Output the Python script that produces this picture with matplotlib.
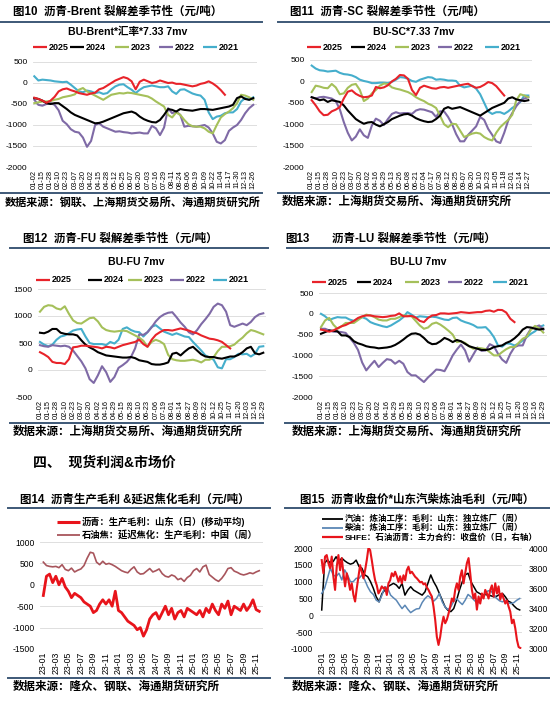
import matplotlib
matplotlib.use("Agg")
import matplotlib.pyplot as plt
from matplotlib.lines import Line2D
import numpy as np

plt.rcParams["font.family"] = ["Liberation Sans", "Noto Sans CJK SC", "DejaVu Sans"]
plt.rcParams["axes.unicode_minus"] = False

# ---------------- data ----------------
YEARS = ["2025", "2024", "2023", "2022", "2021"]
YEAR_COLORS = ["#E8232A", "#000000", "#A5C05A", "#7F6AA6", "#45AECC"]

ticks_brent = ["01-02", "01-15", "01-28", "02-10", "02-23", "03-07", "03-20", "04-02", "04-15", "04-28",
               "05-12", "05-25", "06-07", "06-20", "07-03", "07-16", "07-29", "08-11", "08-24", "09-06",
               "09-19", "10-09", "10-22", "11-04", "11-17", "11-30", "12-13", "12-26"]
ticks_sc = ["01-02", "01-15", "01-28", "02-10", "02-23", "03-07", "03-20", "04-02", "04-16", "04-29",
            "05-13", "05-26", "06-08", "06-21", "07-04", "07-17", "07-30", "08-12", "08-25", "09-07",
            "09-20", "10-10", "10-23", "11-05", "11-18", "12-01", "12-14", "12-27"]
ticks_fu = ["01-02", "01-15", "01-28", "02-10", "02-23", "03-07", "03-20", "04-02", "04-16", "04-29",
            "05-15", "05-28", "06-10", "06-23", "07-06", "07-19", "08-01", "08-14", "08-27", "09-09",
            "09-22", "10-12", "10-25", "11-07", "11-20", "12-03", "12-16", "12-29"]

# BU-Brent*汇率*7.33 7mv (half tick steps)
brent_2025 = [-350, -380, -420, -470, -420, -330, -200, -150, -130, -170, -200, -240, -260, -280, -250, -230,
              -150, -120, -60, 0, 60, 100, 140, 110, 40, -150, 30, 80, 40, 0, 20, 60, 30, 0, 10, -20, -20,
              -40, -60, -80, -60, -20, 0, 40, -10, -80, -170, -280]
brent_2024 = [-360, -380, -420, -480, -500, -480, -480, -550, -620, -700, -760, -800, -840, -880, -920, -960,
              -950, -920, -880, -840, -800, -760, -720, -700, -680, -720, -800, -860, -900, -930, -940, -880,
              -760, -620, -640, -680, -620, -640, -650, -660, -640, -620, -620, -630, -640, -620, -600, -580,
              -560, -520, -360, -320, -380, -400, -360]
brent_2023 = [-480, -460, -440, -440, -430, -400, -380, -340, -320, -300, -270, -160, -120, -200, -250, -300,
              -350, -400, -340, -280, -260, -240, -250, -230, -240, -260, -280, -300, -320, -370, -440, -500,
              -560, -760, -820, -700, -760, -880, -980, -1030, -1040, -1040, -1080, -1160, -1200, -1000, -820,
              -740, -680, -600, -480, -280, -300, -340, -400]
brent_2022 = [-400, -520, -540, -500, -480, -520, -650, -900, -980, -1100, -1160, -1180, -1300, -1520, -1380,
              -1000, -960, -1040, -1080, -1120, -1160, -1150, -1170, -1180, -1200, -1190, -1180, -1200, -1200,
              -1020, -1080, -1240, -1060, -600, -720, -680, -760, -1040, -1020, -1030, -1040, -1020, -1000,
              -1060, -1200, -1400, -1440, -1360, -1140, -1060, -1000, -880, -720, -600, -520]
brent_2021 = [160, 60, 80, 70, 60, 40, 30, 20, 30, -40, -120, -200, -220, -180, -200, -240, -220, -260, -240,
              -150, -80, -40, -30, -100, -160, -240, -160, -100, -80, -60, -80, -100, -100, -80, -200, -260,
              -160, -150, -200, -250, -280, -300, -400, -700, -860, -800, -780, -720, -700, -700, -620, -440,
              -360, -400, -340]

# BU-SC*7.33 7mv
sc_2025 = [-440, -560, -700, -790, -780, -700, -660, -600, -400, -240, -210, -290, -340, -370, -360, -330, -130,
           -160, -140, -90, 0, 60, 150, 140, 60, -200, -320, -150, -100, -130, -160, -170, -140, -130, -150,
           -130, -110, -90, -70, -55, -110, -150, -130, -80, -15, -40, -110, -220, -330]
sc_2024 = [-370, -400, -440, -420, -480, -440, -460, -480, -560, -680, -780, -880, -940, -990, -960, -950,
           -1010, -1050, -1000, -950, -880, -840, -800, -770, -760, -800, -860, -900, -930, -950, -940, -880,
           -800, -640, -600, -640, -620, -600, -640, -680, -720, -760, -800, -740, -680, -620, -580, -540, -500,
           -400, -370, -420, -440, -460, -440]
sc_2023 = [-250, -100, -120, -150, -160, -60, -140, -300, -280, -150, -80, -60, -200, -460, -400, -280, -200,
           -100, -50, -60, -140, -170, -190, -220, -250, -300, -370, -420, -460, -520, -560, -620, -800, -1000,
           -1070, -990, -1000, -1150, -1300, -1260, -1220, -1200, -1220, -1300, -1350, -1380, -1200, -1070, -980,
           -900, -780, -440, -300, -330, -370]
sc_2022 = [-370, -400, -370, -360, -380, -400, -460, -650, -950, -1200, -1380, -1290, -1120, -1260, -1320, -1030,
           -870, -920, -1020, -880, -760, -720, -750, -740, -740, -760, -680, -650, -660, -690, -720, -830, -700,
           -700, -830, -1000, -1230, -1400, -1400, -1250, -1150, -1050, -830, -900, -1110, -1250, -1400, -1440,
           -1200, -910, -740, -580, -460, -400, -370]
sc_2021 = [370, 300, 260, 250, 230, 240, 250, 200, 170, 160, 140, 100, 40, 10, -10, -40, -40, -30, -30, -40, -10,
           40, 100, 90, 60, 10, -10, 40, 70, 100, 90, 40, 50, 40, 20, 20, 10, -100, -140, -120, -100, -170, -300,
           -500, -700, -760, -720, -720, -760, -700, -620, -560, -480, -330, -330]

# BU-FU 7mv
fu_2025 = [330, 290, 240, 150, 130, 130, 110, 200, 420, 430, 450, 450, 440, 430, 420, 400, 430, 420, 400, 430,
           460, 480, 500, 520, 560, 480, 430, 560, 650, 700, 740, 740, 730, 750, 770, 750, 730, 700, 680, 640,
           610, 580, 570, 550, 520, 460, 400]
fu_2024 = [690, 680, 710, 760, 760, 690, 670, 660, 660, 640, 550, 470, 420, 380, 330, 300, 270, 260, 250, 240,
           230, 230, 240, 220, 180, 165, 150, 110, 100, 100, 115, 140, 300, 320, 270, 340, 400, 430, 360, 290,
           250, 240, 240, 220, 210, 230, 250, 250, 280, 330, 400, 430, 310, 290, 320]
fu_2023 = [1080, 1170, 1200, 1190, 1140, 1120, 1180, 1040, 920, 870, 860, 910, 960, 970, 900, 790, 740, 720, 710,
           720, 730, 720, 680, 640, 600, 540, 430, 520, 560, 530, 480, 280, 200, 180, 170, 170, 180, 190, 170,
           140, 190, 190, 240, 350, 430, 430, 440, 470, 540, 600, 680, 740, 720, 690, 660]
fu_2022 = [460, 440, 430, 460, 450, 440, 450, 430, 360, 260, 160, 30, -170, -240, -100, 70, -40, -220, -130, 40,
           90, 150, 240, 400, 660, 650, 700, 790, 900, 980, 1030, 1060, 1070, 980, 880, 800, 700, 660, 740, 850,
           940, 1040, 1170, 1230, 1200, 1080, 830, 800, 830, 860, 830, 890, 980, 1030, 1050]
fu_2021 = [520, 470, 440, 470, 560, 620, 640, 680, 730, 750, 760, 620, 500, 480, 480, 480, 460, 520, 490, 560,
           760, 790, 740, 710, 700, 620, 700, 800, 830, 770, 710, 680, 650, 680, 650, 620, 610, 520, 440, 360,
           270, 230, 190, 50, 30, 200, 200, 240, 300, 290, 300, 250, 300, 430, 440]

# BU-LU 7mv
lu_2025 = [-380, -400, -430, -400, -350, -300, -270, -220, -170, -100, -60, -40, -40, -60, -70, -80, -70, -50,
           -40, 10, -60, -60, -50, -90, -170, -200, -100, -40, -30, 10, 10, 0, 10, 20, 40, 30, 20, 30, 40, 40,
           70, 80, 50, 95, 90, 30, -120, -200]
lu_2024 = [-480, -440, -400, -410, -420, -520, -520, -560, -660, -710, -740, -780, -800, -810, -830, -820, -810,
           -790, -750, -690, -620, -540, -480, -470, -500, -580, -680, -730, -720, -660, -580, -620, -680, -630,
           -660, -720, -780, -810, -840, -870, -870, -850, -800, -780, -760, -700, -660, -590, -500, -380, -320,
           -330, -360, -380, -360]
lu_2023 = [-320, -160, -100, -260, -360, -300, -220, -220, -220, -150, -80, -20, -40, -80, -140, -160, -160,
           -120, -120, -80, -40, -50, -60, -170, -280, -360, -330, -240, -210, -260, -330, -410, -500, -680,
           -660, -700, -780, -840, -820, -830, -850, -920, -1000, -1000, -920, -850, -800, -800, -700, -600,
           -550, -380, -290, -350, -450]
lu_2022 = [-360, -360, -400, -430, -430, -440, -460, -580, -700, -870, -1170, -1360, -1240, -1130, -1280, -1180,
           -1090, -1110, -1200, -1130, -1200, -1400, -1480, -1480, -1560, -1640, -1530, -1440, -1340, -1350,
           -1380, -1200, -1000, -860, -740, -880, -1150, -980, -810, -890, -880, -730, -780, -960, -1100, -1180,
           -960, -800, -760, -760, -520, -360, -320, -280, -380]
lu_2021 = [0, -60, -150, -110, -80, -90, -90, -140, -170, -120, -80, -120, -200, -240, -270, -300, -320, -280,
           -220, -160, -80, 40, -20, -90, -60, -70, -80, -70, -80, -110, -140, -150, -100, -90, -160, -200, -230,
           -270, -330, -330, -320, -420, -560, -760, -790, -710, -720, -760, -720, -640, -560, -480, -420, -320,
           -280]

# monthly axis labels for the bottom charts (23-01 .. 25-11, every 2 months)
month_ticks = ["23-01", "23-03", "23-05", "23-07", "23-09", "23-11", "24-01", "24-03", "24-05", "24-07",
               "24-09", "24-11", "25-01", "25-03", "25-05", "25-07", "25-09", "25-11"]

# 沥青生产毛利 / 延迟焦化毛利, half-month steps from 23-01
bu_margin = [-250, 200, 250, 50, 200, 0, 150, -50, -150, -300, -200, -250, -300, -400, -450, -500, -650, -600,
             -450, -350, -450, -350, -500, -150, -600, -650, -750, -850, -900, -950, -1050, -1000, -1200, -1050,
             -800, -700, -650, -800, -650, -500, -700, -550, -800, -650, -600, -750, -550, -600, -650, -700, -600,
             -750, -550, -650, -450, -600, -700, -450, -550, -380, -700, -500, -550, -600, -450, -600, -500, -350,
             -580, -620]
coke_margin = [530, 450, 430, 420, 430, 400, 470, 360, 330, 390, 300, 340, 370, 450, 620, 760, 740, 530, 470, 550,
               480, 500, 470, 430, 380, 330, 300, 280, 360, 420, 300, 250, 260, 320, 380, 300, 330, 370, 260, 200,
               180, 230, 200, 120, 150, 80, 170, 220, 330, 380, 300, 420, 460, 240, 180, 120, 80, 150, 250, 380,
               400, 320, 290, 250, 230, 250, 280, 260, 300, 330]

# 汽油/柴油毛利 (half-month steps) and SHFE 沥青收盘价 (right axis)
gasoline_margin = [160, 1550, 1650, 1550, 1600, 1740, 1600, 1700, 1620, 1560, 1520, 1550, 1640, 1450, 1400, 1200,
                   1150, 1000, 800, 550, 400, 650, 750, 850, 900, 950, 900, 800, 950, 600, 750, 850, 750, 700,
                   650, 600, 700, 950, 1200, 1000, 850, 650, 450, 250, 150, 110, 200, 450, 750, 1000, 1200, 1250,
                   1000, 850, 700, 650, 600, 620, 600, 580, 550, 570, 620, 650, 550, 420, 380, 280, 200, 160]
diesel_margin = [650, 800, 1100, 1400, 1200, 1150, 1250, 1050, 1350, 1200, 1000, 1000, 1100, 1100, 1200, 1050,
                 850, 700, 620, 450, 400, 600, 850, 800, 600, 520, 450, 320, 200, 300, 180, 80, 140, 190, 200,
                 380, 500, 580, 520, 420, 500, 650, 400, 250, 170, 250, 420, 500, 400, 320, 450, 620, 550, 460,
                 380, 380, 550, 650, 730, 720, 600, 500, 430, 400, 450, 370, 350, 380, 450, 500]
bu_close = [3880, 3750, 3915, 3930, 3850, 3800, 3915, 3715, 3585, 3815,
            3930, 3780, 3900, 3750, 3620, 3750, 3680, 3585, 3650, 3535,
            3470, 3600, 3715, 3830, 3765, 3700, 3780, 3880, 4000, 3980,
            3880, 3770, 3680, 3630, 3550, 3580, 3620, 3600, 3610, 3535,
            3650, 3680, 3750, 3720, 3765, 3720, 3665, 3720, 3650, 3730,
            3680, 3780, 3815, 3750, 3765, 3740, 3715, 3700, 3680, 3660,
            3665, 3640, 3650, 3610, 3585, 3550, 3520, 3420, 3290, 3120,
            3040, 3120, 3240, 3320, 3255, 3290, 3350, 3420, 3500, 3470,
            3585, 3650, 3585, 3715, 3780, 3650, 3750, 3850, 3900, 3750,
            3585, 3500, 3550, 3390, 3520, 3450, 3550, 3500, 3585, 3550,
            3500, 3585, 3630, 3520, 3650, 3550, 3620, 3490, 3550, 3500,
            3450, 3480, 3420, 3370, 3255, 3290, 3205, 3090, 3020, 3010]
bu_close_span = (0.0, 34.6)  # months from 23-01 covered by the daily series

# ---------------- layout helpers ----------------
W, H = 550, 708
RULE = "#3D5877"
GRID = "#D9D9D9"
CJK = ["Liberation Sans", "Noto Sans CJK SC"]

fig = plt.figure(figsize=(W / 100, H / 100), dpi=100)


def fx(px):
    return px / W


def fy(py):
    return 1 - py / H


def add_ax(left, top, right, bottom):
    return fig.add_axes([fx(left), fy(bottom), (right - left) / W, (bottom - top) / H])


def rule(x0, x1, y):
    fig.add_artist(Line2D([fx(x0), fx(x1)], [fy(y), fy(y)], color=RULE, lw=1.4))


def text(x, y, s, size, ha="left", weight="bold", **kw):
    fig.text(fx(x), fy(y), s, fontsize=size, ha=ha, va="center", weight=weight, family=CJK, **kw)


def legend_entry(x, y, color, label, size, length=14, lw=1.6):
    fig.add_artist(Line2D([fx(x), fx(x + length)], [fy(y), fy(y)], color=color, lw=lw,
                          solid_capstyle="butt"))
    text(x + length + 2, y, label, size)


def base_style(ax, yticks, ylim, size=6.0):
    ax.set_ylim(*ylim)
    ax.set_yticks(yticks)
    ax.grid(axis="y", color=GRID, lw=0.6)
    ax.set_axisbelow(True)
    for s in ax.spines.values():
        s.set_visible(False)
    ax.tick_params(length=0, labelsize=size)


def seasonal(ax, series, ticks, yticks, ylim, xlim):
    # 2025 last so it sits on top
    for vals, color in list(zip(series, YEAR_COLORS))[::-1]:
        x = np.arange(len(vals)) * 0.5
        ax.plot(x, vals, color=color, lw=1.5, solid_joinstyle="round")
    base_style(ax, yticks, ylim)
    ax.set_xlim(*xlim)
    ax.set_xticks(range(len(ticks)))
    ax.set_xticklabels(ticks, rotation=90, fontsize=5.3)
    ax.tick_params(axis="y", pad=4)
    ax.tick_params(axis="x", pad=2)


def seasonal_legend(starts, y, size=6.5):
    for x, color, label in zip(starts, YEAR_COLORS, YEARS):
        legend_entry(x, y, color, label, size)


# ---------------- 图10 ----------------
text(13, 12, "图10  沥青-Brent 裂解差季节性（元/吨）", 8.3)
rule(0, 262, 22)
text(128, 32, "BU-Brent*汇率*7.33 7mv", 7.6, ha="center")
seasonal_legend([33, 70, 115, 159, 203], 47)
ax1 = add_ax(33, 62, 257, 167)
seasonal(ax1, [brent_2025, brent_2024, brent_2023, brent_2022, brent_2021], ticks_brent,
         range(-2000, 501, 500), (-2000, 500), (-0.16, 27.46))
rule(0, 262, 193)
text(5, 202, "数据来源：钢联、上海期货交易所、海通期货研究所", 8.0)

# ---------------- 图11 ----------------
text(290, 12, "图11  沥青-SC 裂解差季节性（元/吨）", 8.3)
rule(278, 550, 22)
text(414, 32, "BU-SC*7.33 7mv", 7.6, ha="center")
seasonal_legend([307, 351, 395, 438, 485], 47)
ax2 = add_ax(310, 60, 532, 167)
seasonal(ax2, [sc_2025, sc_2024, sc_2023, sc_2022, sc_2021], ticks_sc,
         range(-2000, 501, 500), (-2000, 500), (-0.21, 27.46))
rule(278, 550, 193)
text(282, 202, "数据来源：上海期货交易所、海通期货研究所", 8.3)

# ---------------- 图12 ----------------
text(23, 239, "图12  沥青-FU 裂解差季节性（元/吨）", 8.3)
rule(10, 268, 248)
text(136, 262, "BU-FU 7mv", 7.6, ha="center")
seasonal_legend([36, 88, 128, 170, 213], 280)
ax3 = add_ax(38, 289, 266, 397)
seasonal(ax3, [fu_2025, fu_2024, fu_2023, fu_2022, fu_2021], ticks_fu,
         range(-500, 1501, 500), (-500, 1500), (-0.24, 27.33))
rule(10, 263, 423)
text(13, 432, "数据来源：上海期货交易所、海通期货研究所", 8.3)

# ---------------- 图13 ----------------
text(285, 239, "图13", 8.3)
text(332, 239, "沥青-LU 裂解差季节性（元/吨）", 8.3)
rule(287, 550, 248)
text(418, 262, "BU-LU 7mv", 7.6, ha="center")
seasonal_legend([312, 357, 405, 448, 493], 282)
ax4 = add_ax(319, 293, 547, 397)
seasonal(ax4, [lu_2025, lu_2024, lu_2023, lu_2022, lu_2021], ticks_fu,
         range(-2000, 501, 500), (-2000, 500), (-0.24, 27.45))
rule(285, 550, 423)
text(292, 432, "数据来源：上海期货交易所、海通期货研究所", 8.3)

# ---------------- section heading ----------------
text(33, 463, "四、  现货利润&市场价", 10)

# ---------------- 图14 ----------------
text(20, 500, "图14  沥青生产毛利 &延迟焦化毛利（元/吨）", 8.3)
rule(8, 270, 508)
legend_entry(57, 522, "#E8141B", "沥青：生产毛利：山东（日）(移动平均)", 6.7, length=23, lw=2.2)
legend_entry(57, 535, "#A8555C", "石油焦：延迟焦化：生产毛利：中国（周）", 6.7, length=23, lw=1.3)
ax5 = add_ax(40, 542, 263, 649)
ax5.plot(np.arange(len(coke_margin)) * 0.5, coke_margin, color="#A8555C", lw=1.2)
ax5.plot(np.arange(len(bu_margin)) * 0.5, bu_margin, color="#E8141B", lw=2.0)
base_style(ax5, range(-1500, 1001, 500), (-1500, 1000), size=6.2)
ax5.set_xlim(-0.53, 35.1)
ax5.set_xticks(range(0, 35, 2))
ax5.set_xticklabels(month_ticks, rotation=90, fontsize=6.3)
ax5.tick_params(axis="y", pad=4)
ax5.tick_params(axis="x", pad=2)
rule(8, 270, 678)
text(13, 687, "数据来源：隆众、钢联、海通期货研究所", 8.3)

# ---------------- 图15 ----------------
text(300, 500, "图15  沥青收盘价*山东汽柴炼油毛利（元/吨）", 8.3)
rule(285, 550, 508)
legend_entry(322, 519, "#000000", "汽油：炼油工序：毛利：山东：独立炼厂（周）", 6.1, length=21, lw=1.3)
legend_entry(322, 528, "#5B87B5", "柴油：炼油工序：毛利：山东：独立炼厂（周）", 6.1, length=21, lw=1.3)
legend_entry(322, 537, "#E8141B", "SHFE：石油沥青：主力合约：收盘价（日，右轴）", 6.1, length=21, lw=1.6)
ax6 = add_ax(320, 548, 522, 649)
ax6.plot(np.arange(len(gasoline_margin)) * 0.5, gasoline_margin, color="#000000", lw=1.1)
ax6.plot(np.arange(len(diesel_margin)) * 0.5, diesel_margin, color="#5B87B5", lw=1.1)
base_style(ax6, range(-1000, 2001, 500), (-1000, 2000), size=6.2)
ax6.set_xlim(-0.3, 34.9)
ax6.set_xticks(range(0, 35, 2))
ax6.set_xticklabels(month_ticks, rotation=90, fontsize=6.3)
ax6.tick_params(axis="y", pad=5)
ax6.tick_params(axis="x", pad=2)
ax6r = ax6.twinx()
ax6r.plot(np.linspace(*bu_close_span, len(bu_close)), bu_close, color="#E8141B", lw=1.5)
ax6r.set_ylim(3000, 4000)
ax6r.set_yticks(range(3000, 4001, 200))
for s in ax6r.spines.values():
    s.set_visible(False)
ax6r.tick_params(length=0, labelsize=6.2, pad=5)
rule(285, 550, 678)
text(292, 687, "数据来源：隆众、钢联、海通期货研究所", 8.3)

fig.savefig("out.png", dpi=100, facecolor="white")
